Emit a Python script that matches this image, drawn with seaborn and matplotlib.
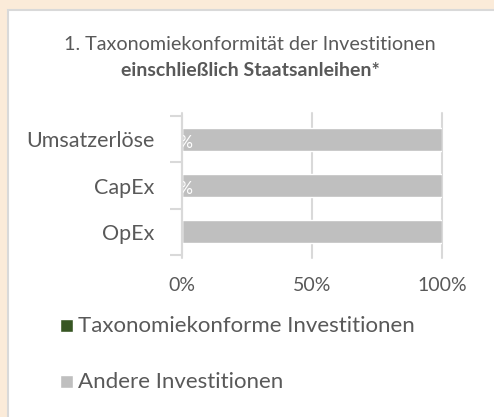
import matplotlib
matplotlib.use("Agg")
import matplotlib.pyplot as plt
from matplotlib.patches import Rectangle
import seaborn as sns
import pandas as pd

# Daten
kategorien = ["Umsatzerlöse", "CapEx", "OpEx"]
konform = [0, 0, 0]
andere = [100, 100, 100]
legende = ["Taxonomiekonforme Investitionen", "Andere Investitionen"]

gruen = "#375623"
grau = "#BFBFBF"
textfarbe = "#595959"

sns.set_style("white")
plt.rcParams["font.family"] = ["Lato", "DejaVu Sans"]

df = pd.DataFrame({"Kategorie": kategorien, "konform": konform, "andere": andere})
df["gesamt"] = df["konform"] + df["andere"]

fig = plt.figure(figsize=(4.94, 4.17), dpi=100)
fig.patch.set_facecolor("#FBEBD9")
fig.patches.append(Rectangle((8 / 494, -0.01), 1, 1.01 - 10 / 417, transform=fig.transFigure,
                             facecolor="white", edgecolor="#D9D9D9", linewidth=1.5, zorder=-5))

ax = fig.add_axes([182 / 494, 1 - 255 / 417, 260 / 494, 139 / 417])
ax.set_zorder(3)
ax.set_facecolor("none")

sns.barplot(data=df, y="Kategorie", x="gesamt", color=grau, orient="h", width=0.5,
            ax=ax, zorder=2, saturation=1)
sns.barplot(data=df, y="Kategorie", x="konform", color=gruen, orient="h", width=0.5,
            ax=ax, zorder=3, saturation=1)

# Datenbeschriftungen (0%), nur auf dem Balken sichtbar
for i, (kat, v) in enumerate(zip(kategorien, konform)):
    if kat != "OpEx":
        ax.text(v, i + 0.08, f"{v}%", color="white", ha="center", va="center",
                fontsize=12, zorder=4)

ax.set_xlim(0, 100)
ax.set_ylim(2.5, -0.5)
ax.set_xticks([0, 50, 100])
ax.set_xticklabels(["0%", "50%", "100%"], fontsize=14, color=textfarbe)
ax.tick_params(axis="x", length=0, pad=16)
ax.set_yticks(range(len(kategorien)))
ax.set_yticklabels(kategorien, fontsize=15.5, color=textfarbe)
ax.tick_params(axis="y", which="major", left=False, length=0, pad=20)
ax.set_yticks([-0.5, 0.5, 1.5, 2.5], minor=True)
ax.tick_params(axis="y", which="minor", left=True, length=9, width=1.5, color="#D9D9D9")
ax.set_xlabel("")
ax.set_ylabel("")

for x in [0, 50, 100]:
    ax.axvline(x, color="#D9D9D9", linewidth=1.5, zorder=1, ymin=-0.02, ymax=1.02, clip_on=False)
for s in ["top", "right", "bottom"]:
    ax.spines[s].set_visible(False)
ax.spines["left"].set_color("#D9D9D9")
ax.spines["left"].set_linewidth(1.5)
ax.spines["left"].set_zorder(5)

# Titel
fig.text(250 / 494, 1 - 45 / 417, "1. Taxonomiekonformität der Investitionen",
         ha="center", va="center", fontsize=14.2, color=textfarbe)
fig.text(250 / 494, 1 - 70 / 417, "einschließlich Staatsanleihen*",
         ha="center", va="center", fontsize=14, color=textfarbe, fontweight="bold")

# Legende
for j, (name, farbe) in enumerate(zip(legende, [gruen, grau])):
    y = 1 - (326 + j * 56) / 417
    fig.patches.append(Rectangle((60 / 494, y - 6 / 417), 13 / 494, 13 / 417,
                                 transform=fig.transFigure, facecolor=farbe, zorder=2))
    fig.text(78 / 494, y, name, ha="left", va="center", fontsize=16, color=textfarbe)

fig.savefig("out.png", dpi=100, facecolor=fig.get_facecolor())
